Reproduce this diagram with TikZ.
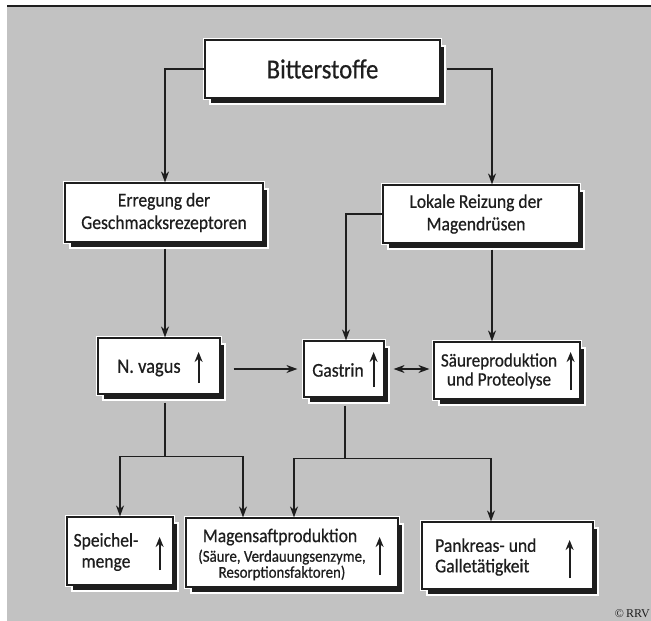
\documentclass[tikz,border=0pt]{standalone}
\usepackage{fontspec}
\setmainfont{Carlito}[FakeStretch=0.9, FakeBold=0.6]
\newfontfamily\copyfont{Liberation Serif}
\usetikzlibrary{arrows.meta,shadows}
\definecolor{bg}{RGB}{194,194,194}
\definecolor{ink}{RGB}{30,30,30}
\tikzset{
  box/.style={rectangle, draw=ink, line width=1.2pt, fill=white, inner sep=0pt,
    preaction={draw=white, line width=4pt},
    drop shadow={shadow xshift=5pt, shadow yshift=-6pt, fill=ink, draw=white, line width=2pt, opacity=1}},
  conn/.style={draw=ink, line width=1.5pt, -{Stealth[length=11pt,width=8pt]}},
  dconn/.style={draw=ink, line width=1.5pt, {Stealth[length=11pt,width=8pt]}-{Stealth[length=11pt,width=8pt]}},
  plain/.style={draw=ink, line width=1.5pt},
  uparr/.style={draw=ink, line width=2pt, -{Stealth[length=10pt,width=8pt]}},
  txt/.style={text=ink, font=\fontsize{19.5}{22}\selectfont, align=center, inner sep=0pt},
  small/.style={text=ink, font=\fontsize{16.5}{16}\selectfont, align=center, inner sep=0pt},
}
\begin{document}
\begin{tikzpicture}[x=1pt,y=-1pt]
\useasboundingbox (0,0) rectangle (651,621);
\fill[white] (0,0) rectangle (651,621);
\fill[bg] (7,7) rectangle (651,621);
\draw[ink, line width=2pt] (7,6) -- (651,6);

% boxes
\node[box, minimum width=235pt, minimum height=58pt] (bit) at (322.5,69) {};
\node[txt, font=\fontsize{27.5}{30}\selectfont] (bitT) at (bit.center) {Bitterstoffe};

\node[box, minimum width=198pt, minimum height=59pt] (erg) at (164,212.5) {};
\node[txt, font=\fontsize{19.5}{22.5}\selectfont] (ergT) at (erg.center) {Erregung der\\Geschmacksrezeptoren};

\node[box, minimum width=196pt, minimum height=58pt] (lok) at (481,214) {};
\node[txt, font=\fontsize{19.5}{22.5}\selectfont] (lokT) at (476,214) {Lokale Reizung der\\Magendrüsen};

\node[box, minimum width=122pt, minimum height=56pt] (nv) at (159,366) {};
\node[txt, font=\fontsize{20.5}{22}\selectfont] (nvT) at (149,368) {N. vagus};

\node[box, minimum width=80pt, minimum height=56pt] (gas) at (344,369) {};
\node[txt] (gasT) at (338,370) {Gastrin};

\node[box, minimum width=146pt, minimum height=57pt] (sae) at (507,370.5) {};
\node[txt, font=\fontsize{19}{19}\selectfont] (saeT) at (499,371) {Säureproduktion\\und Proteolyse};

\node[box, minimum width=106pt, minimum height=68pt] (spe) at (120,551) {};
\node[txt, font=\fontsize{19.5}{21}\selectfont] (speT) at (106,552) {Speichel-\\menge};

\node[box, minimum width=212pt, minimum height=69pt] (mag) at (292,552.5) {};
\node[txt, font=\fontsize{19.5}{20}\selectfont] (magT) at (280,537) {Magensaftproduktion};
\node[small] (magS) at (282,565) {(Säure, Verdauungsenzyme,\\Resorptionsfaktoren)};

\node[box, minimum width=171pt, minimum height=67pt] (pan) at (507.5,555.5) {};
\node[txt, align=left, anchor=west, font=\fontsize{19.5}{20.5}\selectfont] (panT) at (435,557) {Pankreas- und\\Galletätigkeit};

% up arrows inside boxes
\draw[uparr] ([xshift=-22pt,yshift=-17pt]nv.east) -- ++(0,-31);
\draw[uparr] ([xshift=-11pt,yshift=-18pt]gas.east) -- ++(0,-35);
\draw[uparr] ([xshift=-10pt,yshift=-19.5pt]sae.east) -- ++(0,-38);
\draw[uparr] ([xshift=-14pt,yshift=-19pt]spe.east) -- ++(0,-33);
\draw[uparr] ([xshift=-19pt,yshift=-22.5pt]mag.east) -- ++(0,-38);
\draw[uparr] ([xshift=-24pt,yshift=-22.5pt]pan.east) -- ++(0,-38);

% connectors
\draw[conn] (bit.west) -| ([xshift=1pt]erg.north);
\draw[conn] ([xshift=6pt]bit.east) -| ([xshift=11pt]lok.north);
\draw[conn] ([xshift=1pt,yshift=-6pt]erg.south) -- ([xshift=1pt]erg.south |- nv.north);
\draw[conn] (lok.west) -| ([xshift=2pt]gas.north);
\draw[conn] ([xshift=11pt,yshift=-6pt]lok.south) coordinate (ls) -- (ls |- sae.north);
\draw[conn, shorten <=13pt, shorten >=6pt] (gas.west -| nv.east) -- (gas.west);
\draw[dconn, shorten <=9pt, shorten >=4pt] (gas.east) -- (gas.east -| sae.west);

\coordinate (j1) at ([xshift=6pt,yshift=-62pt]nv.south);
\draw[plain] ([yshift=-8pt]nv.south -| j1) -- (j1);
\draw[conn] (j1) -| (spe.north);
\draw[conn] (j1) -| ([xshift=-49pt]mag.north);

\coordinate (j2) at ([xshift=1pt,yshift=-61pt]gas.south);
\draw[plain] ([yshift=-8pt]gas.south -| j2) -- (j2);
\draw[conn] (j2) -| ([xshift=2pt]mag.north);
\draw[conn] (j2) -| ([xshift=-16.5pt]pan.north);

\node[text=ink, anchor=east, inner sep=0pt, font=\copyfont\fontsize{12}{14}\selectfont] (copy) at (650,614) {©\,RRV};
\end{tikzpicture}
\end{document}
